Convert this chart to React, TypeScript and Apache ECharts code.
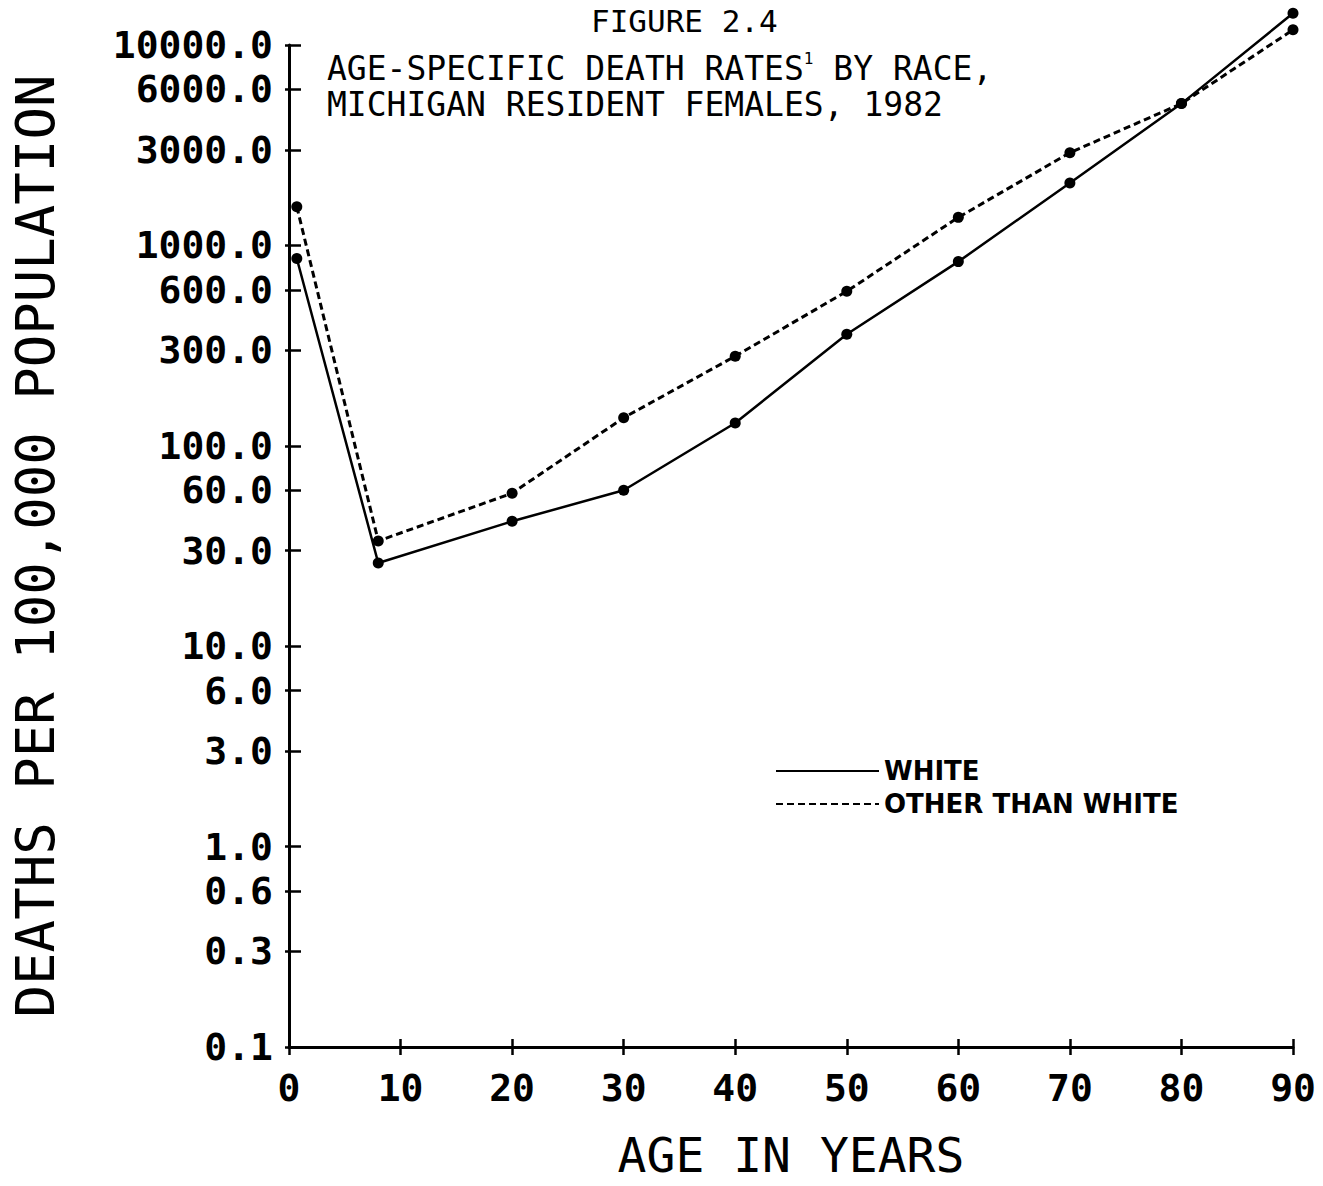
import React, { useEffect, useRef } from "react";
import * as echarts from "echarts";

const ages = [0.7, 8, 20, 30, 40, 50, 60, 70, 80, 90];
const whiteRates = [860, 26, 42, 60, 130, 360, 830, 2050, 5100, 14400];
const otherRates = [1560, 33.5, 58, 138, 280, 590, 1380, 2900, 5100, 11900];
const yTicks = [0.1, 0.3, 0.6, 1, 3, 6, 10, 30, 60, 100, 300, 600, 1000, 3000, 6000, 10000];
const seriesNames = ["WHITE", "OTHER THAN WHITE"];
const titleLine1 = "FIGURE 2.4";
const titleLine2 = "AGE-SPECIFIC DEATH RATES{s|1} BY RACE,\nMICHIGAN RESIDENT FEMALES, 1982";
const xName = "AGE IN YEARS";
const yName = "DEATHS PER 100,000 POPULATION";

const MONO = "'DejaVu Sans Mono', monospace";

export default function App() {
  const ref = useRef<HTMLDivElement>(null);
  useEffect(() => {
    if (!ref.current) return;
    const chart = echarts.init(ref.current, null, { renderer: "svg" });
    const tickLabel = { fontFamily: MONO, fontSize: 38, fontWeight: "bold" as const, color: "#000" };
    const yBase = {
      type: "log" as const,
      logBase: 10,
      min: 0.1,
      max: 10000,
      position: "left" as const,
      splitLine: { show: false },
      minorTick: { show: false },
    };
    const xBase = {
      type: "value" as const,
      min: 0,
      max: 90,
      interval: 10,
      position: "bottom" as const,
      splitLine: { show: false },
    };
    chart.setOption({
      animation: false,
      backgroundColor: "#fff",
      title: [
        {
          text: titleLine1,
          left: 586,
          top: 0,
          textStyle: { fontFamily: MONO, fontSize: 31, fontWeight: "normal", color: "#000" },
        },
        {
          text: titleLine2,
          left: 322,
          top: 45,
          textStyle: {
            fontFamily: MONO,
            fontSize: 33,
            fontWeight: "normal",
            color: "#000",
            lineHeight: 36,
            rich: {
              s: { fontFamily: MONO, fontSize: 16, color: "#000", verticalAlign: "top", lineHeight: 36, padding: [0, 0, 14, 0] },
            },
          },
        },
      ],
      grid: { left: 289, right: 30, top: 45, bottom: 139, containLabel: false, outerBoundsMode: "none" },
      legend: {
        orient: "vertical",
        left: 770,
        top: 753,
        itemWidth: 103,
        itemHeight: 14,
        itemGap: 7,
        itemStyle: { opacity: 0 },
        textStyle: { fontFamily: "'DejaVu Sans', sans-serif", fontSize: 26, fontWeight: "bold", color: "#000" },
        data: seriesNames,
      },
      xAxis: [
        {
          ...xBase,
          name: xName,
          nameLocation: "middle",
          nameGap: 84,
          nameTextStyle: { fontFamily: MONO, fontSize: 48, lineHeight: 48, color: "#000", verticalAlign: "top" },
          axisLine: { show: true, lineStyle: { color: "#000", width: 3 } },
          axisTick: { show: true, length: 8, lineStyle: { color: "#000", width: 2.5 } },
          axisLabel: { ...tickLabel, margin: 22 },
        },
        {
          ...xBase,
          axisLine: { show: false },
          axisTick: { show: true, inside: true, length: 8, lineStyle: { color: "#000", width: 2.5 } },
          axisLabel: { show: false },
        },
      ],
      yAxis: [
        {
          ...yBase,
          name: yName,
          nameLocation: "middle",
          nameGap: 227,
          nameRotate: 90,
          nameTextStyle: { fontFamily: MONO, fontSize: 54, color: "#000" },
          axisLine: { show: true, lineStyle: { color: "#000", width: 3 } },
          axisTick: { show: true, length: 4, customValues: yTicks, lineStyle: { color: "#000", width: 2.5 } },
          axisLabel: {
            ...tickLabel,
            margin: 16,
            customValues: yTicks,
            formatter: (v: number) => Number(v).toFixed(1),
          },
        },
        {
          ...yBase,
          axisLine: { show: false },
          axisTick: { show: true, inside: true, length: 12, customValues: yTicks, lineStyle: { color: "#000", width: 2.5 } },
          axisLabel: { show: false },
        },
      ],
      series: [
        {
          name: seriesNames[0],
          type: "line",
          clip: false,
          data: ages.map((a, i) => [a, whiteRates[i]]),
          symbol: "circle",
          symbolSize: 11,
          itemStyle: { color: "#000" },
          lineStyle: { color: "#000", width: 2.5, type: "solid" },
        },
        {
          name: seriesNames[1],
          type: "line",
          clip: false,
          data: ages.map((a, i) => [a, otherRates[i]]),
          symbol: "circle",
          symbolSize: 11,
          itemStyle: { color: "#000" },
          lineStyle: { color: "#000", width: 3, type: [7, 4] },
        },
      ],
    });
    return () => chart.dispose();
  }, []);
  return <div ref={ref} style={{ position: "absolute", left: 0, top: 0, width: 1323, height: 1186 }} />;
}
